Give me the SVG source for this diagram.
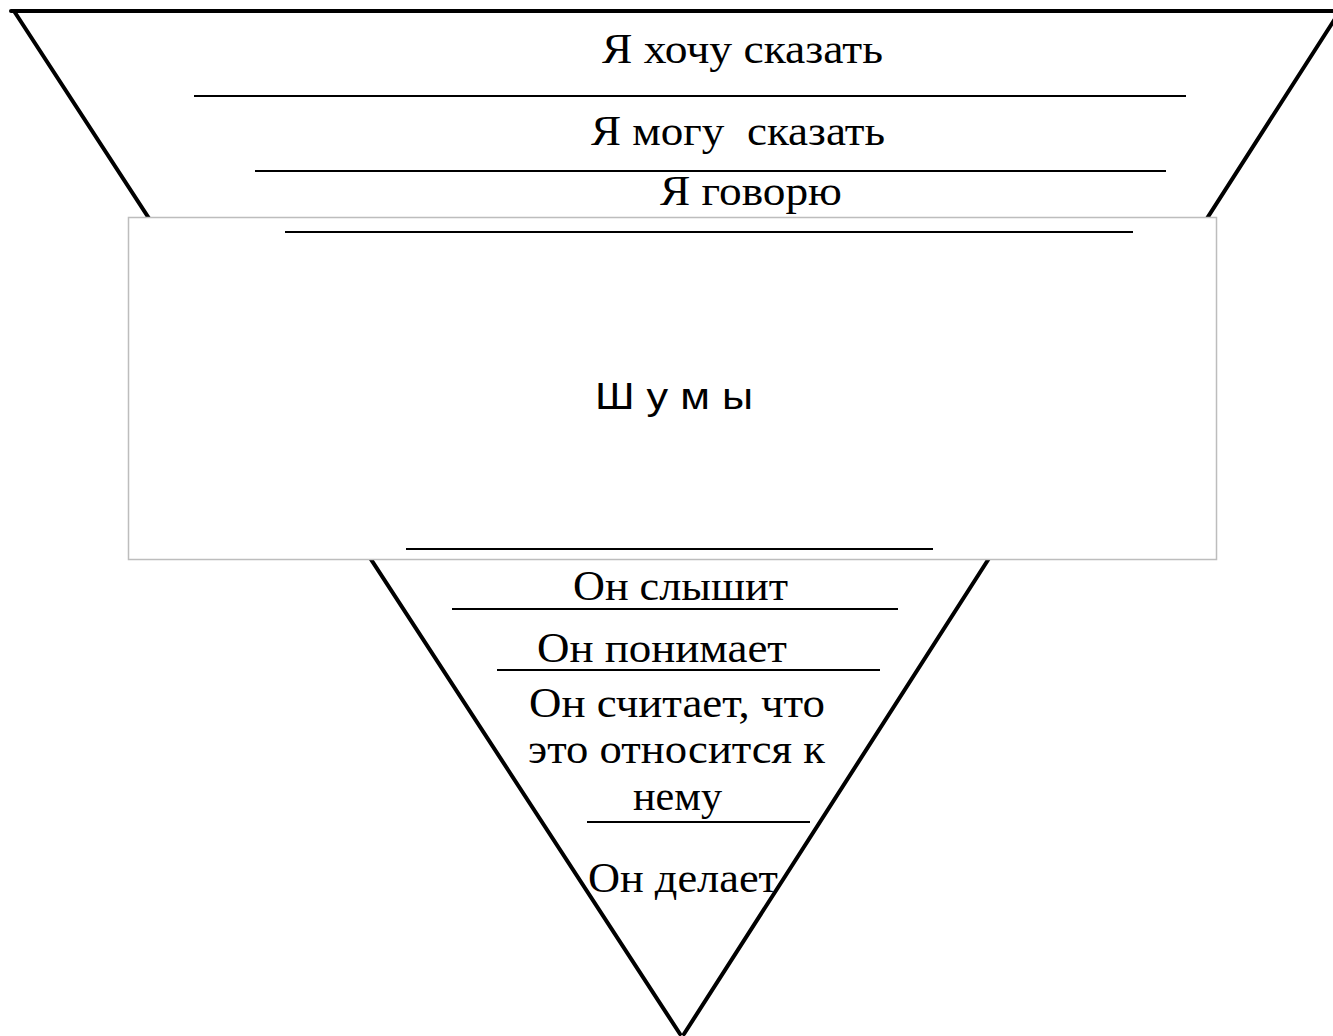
<svg xmlns="http://www.w3.org/2000/svg" width="1333" height="1036" viewBox="0 0 1333 1036">
<style>
.edge{stroke:#000;stroke-width:4;fill:none;stroke-linecap:round}
.rule{stroke:#000;stroke-width:2}
.t{font-family:"Liberation Serif","Times New Roman",serif;font-size:42px;fill:#000;text-anchor:start}
.s{font-family:"Liberation Sans",Arial,sans-serif;font-size:36px;fill:#000}
</style>
<rect x="0" y="0" width="1333" height="1036" fill="#fff"/>
<g id="funnel">
<line class="edge" x1="11" y1="11" x2="1340" y2="11" stroke-width="5"/>
<line class="edge" x1="14" y1="11" x2="680" y2="1034"/>
<line class="edge" x1="1340" y1="11" x2="684" y2="1034"/>
</g>
<g id="noise">
<rect x="128.5" y="217.5" width="1088" height="342" fill="#fff" stroke="#bdbdbd" stroke-width="1.5"/>
<text class="s" x="595" y="409" textLength="158" lengthAdjust="spacingAndGlyphs">Ш у м ы</text>
</g>
<g id="connectors">
<line class="rule" x1="194" y1="96" x2="1186" y2="96"/>
<line class="rule" x1="255" y1="171" x2="1166" y2="171"/>
<line class="rule" x1="285" y1="232" x2="1133" y2="232"/>
<line class="rule" x1="406" y1="549" x2="933" y2="549"/>
<line class="rule" x1="452" y1="609" x2="898" y2="609"/>
<line class="rule" x1="497" y1="670" x2="880" y2="670"/>
<line class="rule" x1="587" y1="822" x2="810" y2="822"/>
</g>
<g id="want"><text class="t" x="602" y="63" textLength="281" lengthAdjust="spacingAndGlyphs">Я хочу сказать</text></g>
<g id="can"><text class="t" x="591" y="145" textLength="294" lengthAdjust="spacingAndGlyphs" xml:space="preserve">Я могу  сказать</text></g>
<g id="say"><text class="t" x="660" y="205" textLength="182" lengthAdjust="spacingAndGlyphs">Я говорю</text></g>
<g id="hears"><text class="t" x="573" y="600" textLength="215" lengthAdjust="spacingAndGlyphs">Он слышит</text></g>
<g id="understands"><text class="t" x="537" y="662" textLength="250" lengthAdjust="spacingAndGlyphs">Он понимает</text></g>
<g id="relates">
<text class="t" x="529" y="717" textLength="296" lengthAdjust="spacingAndGlyphs">Он считает, что</text>
<text class="t" x="528" y="763" textLength="297" lengthAdjust="spacingAndGlyphs">это относится к</text>
<text class="t" x="633" y="810" textLength="89" lengthAdjust="spacingAndGlyphs">нему</text>
</g>
<g id="does"><text class="t" x="588" y="892" textLength="190" lengthAdjust="spacingAndGlyphs">Он делает</text></g>
</svg>
